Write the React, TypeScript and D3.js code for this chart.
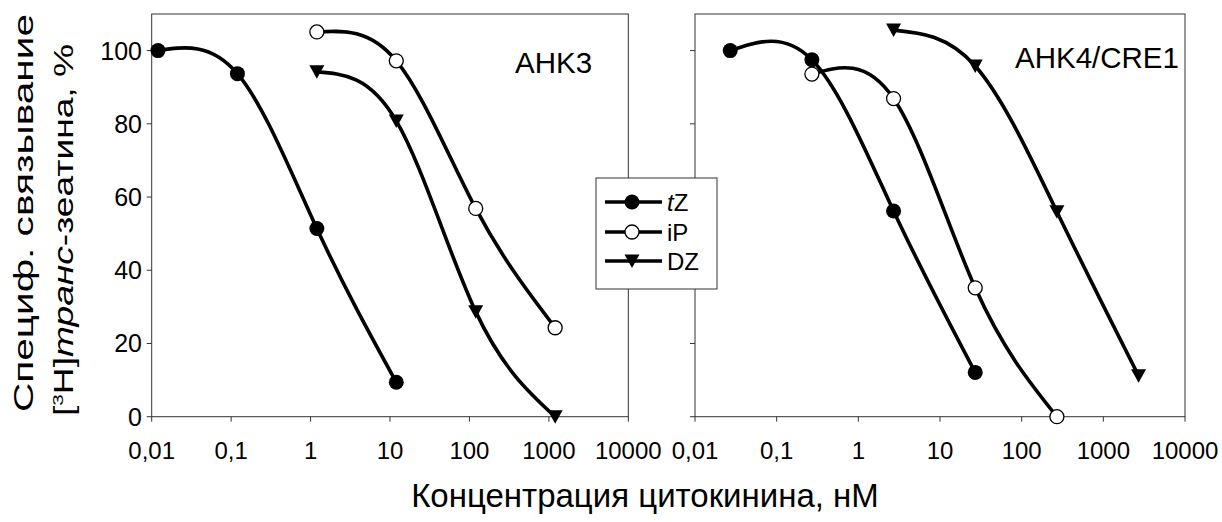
import React from "react";
import * as d3 from "d3";

// ---- data ----
const xTickValues = [0.01, 0.1, 1, 10, 100, 1000, 10000];
const xTickLabels = ["0,01", "0,1", "1", "10", "100", "1000", "10000"];
const yTickValues = [0, 20, 40, 60, 80, 100];

// AHK3 panel
const ahk3_tZ_x = [0.012, 0.12, 1.2, 12];
const ahk3_tZ_y = [100, 93.7, 51.4, 9.4];
const ahk3_iP_x = [1.2, 12, 120, 1200];
const ahk3_iP_y = [105.1, 97.2, 56.9, 24.3];
const ahk3_DZ_x = [1.2, 12, 120, 1200];
const ahk3_DZ_y = [94.2, 80.8, 28.7, 0];

// AHK4/CRE1 panel
const ahk4_tZ_x = [0.027, 0.27, 2.7, 27];
const ahk4_tZ_y = [100, 97.5, 56.2, 12.1];
const ahk4_iP_x = [0.27, 2.7, 27, 270];
const ahk4_iP_y = [93.6, 86.9, 35.2, 0];
const ahk4_DZ_x = [2.7, 27, 270, 2700];
const ahk4_DZ_y = [105.6, 95.8, 56.0, 11.2];

const seriesNames = ["tZ", "iP", "DZ"];

const FONT = "'Liberation Sans', Arial, Helvetica, sans-serif";

type Marker = "filled" | "open" | "tri";

const yTop = 14;
const yBottom = 416.7;
const yScale = d3.scaleLinear().domain([0, 110]).range([yBottom, yTop]);

function MarkerShape({ type, x, y }: { type: Marker; x: number; y: number }) {
  if (type === "filled") return <circle cx={x} cy={y} r={7.5} fill="#000" />;
  if (type === "open")
    return <circle cx={x} cy={y} r={7} fill="#fff" stroke="#000" strokeWidth={1.3} />;
  return (
    <path
      d={`M${x - 7.5},${y - 6.5}L${x + 7.5},${y - 6.5}L${x},${y + 7}Z`}
      fill="#000"
    />
  );
}

function Panel({
  x0,
  x1,
  label,
  labelX,
  labelY,
  series,
}: {
  x0: number;
  x1: number;
  label: string;
  labelX: number;
  labelY: number;
  series: { xs: number[]; ys: number[]; marker: Marker }[];
}) {
  const xScale = d3.scaleLog().domain([0.01, 10000]).range([x0, x1]);
  const line = d3
    .line<[number, number]>()
    .x((d) => xScale(d[0]))
    .y((d) => yScale(d[1]))
    .curve(d3.curveNatural);
  return (
    <g>
      <rect
        x={x0}
        y={yTop}
        width={x1 - x0}
        height={yBottom - yTop}
        fill="none"
        stroke="#333"
        strokeWidth={1}
      />
      {yTickValues.map((v) => (
        <line
          key={"yt" + v}
          x1={x0 - 5}
          x2={x0}
          y1={yScale(v)}
          y2={yScale(v)}
          stroke="#333"
          strokeWidth={1}
        />
      ))}
      {xTickValues.map((v, i) => (
        <g key={"xt" + v}>
          <line
            x1={xScale(v)}
            x2={xScale(v)}
            y1={yBottom}
            y2={yBottom + 5}
            stroke="#333"
            strokeWidth={1}
          />
          <text
            x={xScale(v)}
            y={459}
            textAnchor="middle"
            fontFamily={FONT}
            fontSize={24}
            fill="#000"
          >
            {xTickLabels[i]}
          </text>
        </g>
      ))}
      {series.map((s, i) => (
        <path
          key={"c" + i}
          d={line(s.xs.map((x, j) => [x, s.ys[j]] as [number, number])) || ""}
          fill="none"
          stroke="#000"
          strokeWidth={3.6}
        />
      ))}
      {series.map((s, i) =>
        s.xs.map((x, j) => (
          <MarkerShape key={"m" + i + "_" + j} type={s.marker} x={xScale(x)} y={yScale(s.ys[j])} />
        ))
      )}
      <text x={labelX} y={labelY} fontFamily={FONT} fontSize={29.5} fill="#000">
        {label}
      </text>
    </g>
  );
}

export default function App() {
  const lx0 = 151.7,
    lx1 = 628.3,
    rx0 = 695,
    rx1 = 1185;
  const markers: Marker[] = ["filled", "open", "tri"];
  const legendRows = [202, 232, 261];
  return (
    <svg
      width={1222}
      height={522}
      style={{ position: "absolute", left: 0, top: 0, background: "#fff" }}
    >
      <rect x={0} y={0} width={1222} height={522} fill="#fff" />
      {yTickValues.map((v) => (
        <text
          key={"yl" + v}
          x={142}
          y={yScale(v)}
          dy="0.36em"
          textAnchor="end"
          fontFamily={FONT}
          fontSize={25}
          fill="#000"
        >
          {v}
        </text>
      ))}
      <Panel
        x0={lx0}
        x1={lx1}
        label="AHK3"
        labelX={515}
        labelY={73}
        series={[
          { xs: ahk3_tZ_x, ys: ahk3_tZ_y, marker: "filled" },
          { xs: ahk3_iP_x, ys: ahk3_iP_y, marker: "open" },
          { xs: ahk3_DZ_x, ys: ahk3_DZ_y, marker: "tri" },
        ]}
      />
      <Panel
        x0={rx0}
        x1={rx1}
        label="AHK4/CRE1"
        labelX={1015}
        labelY={68}
        series={[
          { xs: ahk4_tZ_x, ys: ahk4_tZ_y, marker: "filled" },
          { xs: ahk4_iP_x, ys: ahk4_iP_y, marker: "open" },
          { xs: ahk4_DZ_x, ys: ahk4_DZ_y, marker: "tri" },
        ]}
      />
      <g>
        <rect x={596} y={178} width={121} height={111} fill="#fff" stroke="#333" strokeWidth={1} />
        {seriesNames.map((name, i) => (
          <g key={"lg" + name}>
            <line
              x1={605}
              x2={662}
              y1={legendRows[i]}
              y2={legendRows[i]}
              stroke="#000"
              strokeWidth={3.6}
            />
            <MarkerShape type={markers[i]} x={632} y={legendRows[i]} />
            <text
              x={667}
              y={legendRows[i]}
              dy="0.36em"
              fontFamily={FONT}
              fontSize={24}
              fill="#000"
            >
              {name === "tZ" ? (
                <>
                  <tspan fontStyle="italic">t</tspan>Z
                </>
              ) : (
                name
              )}
            </text>
          </g>
        ))}
      </g>
      <text
        x={645}
        y={507}
        textAnchor="middle"
        fontFamily={FONT}
        fontSize={33}
        fill="#000"
      >
        Концентрация цитокинина, нМ
      </text>
      <text
        transform="translate(33,213) rotate(-90)"
        textAnchor="middle"
        fontFamily={FONT}
        fontSize={27}
        fill="#000"
        textLength={398}
        lengthAdjust="spacingAndGlyphs"
      >
        Специф. связывание
      </text>
      <text
        transform="translate(73,230) rotate(-90)"
        textAnchor="middle"
        fontFamily={FONT}
        fontSize={27}
        fill="#000"
        textLength={372}
        lengthAdjust="spacingAndGlyphs"
      >
        [<tspan fontSize={15} dy="-10">3</tspan>
        <tspan dy="10">H]</tspan>
        <tspan fontStyle="italic">транс</tspan>-зеатина, %
      </text>
    </svg>
  );
}
